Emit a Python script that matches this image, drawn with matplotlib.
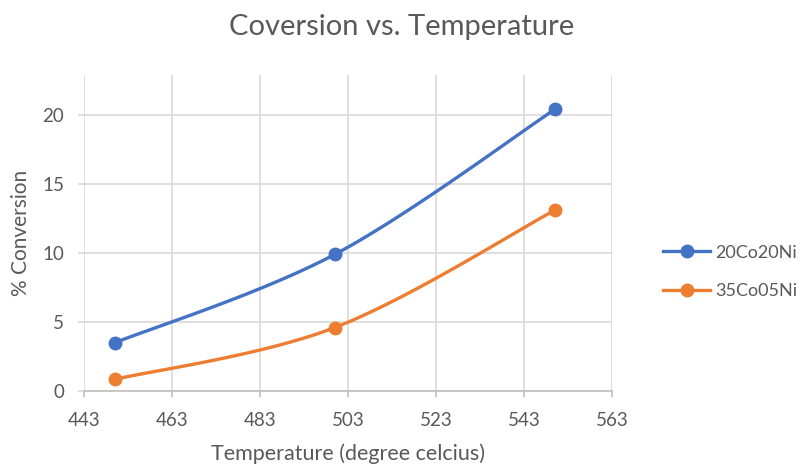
import matplotlib.pyplot as plt
import numpy as np

plt.rcParams['font.family'] = ['Lato', 'DejaVu Sans']

temperature = [450, 500, 550]
conv_20co20ni = [3.5, 9.9, 20.4]
conv_35co05ni = [0.85, 4.6, 13.1]
x_ticks = [443, 463, 483, 503, 523, 543, 563]
y_ticks = [0, 5, 10, 15, 20]


def smooth(xs, ys, steps=40):
    # cardinal bezier through the points, like a spreadsheet "smoothed line"
    xs = np.asarray(xs, float)
    ys = np.asarray(ys, float)
    px, py = [xs[0]], [ys[0]]
    n = len(xs)
    t = np.linspace(0, 1, steps)[1:]
    for i in range(n - 1):
        i0 = max(i - 1, 0)
        i3 = min(i + 2, n - 1)
        c1x = xs[i] + (xs[i + 1] - xs[i0]) / 6
        c1y = ys[i] + (ys[i + 1] - ys[i0]) / 6
        c2x = xs[i + 1] - (xs[i3] - xs[i]) / 6
        c2y = ys[i + 1] - (ys[i3] - ys[i]) / 6
        bx = ((1 - t) ** 3 * xs[i] + 3 * (1 - t) ** 2 * t * c1x
              + 3 * (1 - t) * t ** 2 * c2x + t ** 3 * xs[i + 1])
        by = ((1 - t) ** 3 * ys[i] + 3 * (1 - t) ** 2 * t * c1y
              + 3 * (1 - t) * t ** 2 * c2y + t ** 3 * ys[i + 1])
        px.extend(bx)
        py.extend(by)
    return px, py


text_col = '#595959'
grid_col = '#D9D9D9'

fig = plt.figure(figsize=(8.03, 4.65), dpi=100)
ax = fig.add_axes([0.1046, 0.159, 0.6576, 0.680])

series = [
    ('20Co20Ni', conv_20co20ni, '#4472C4'),
    ('35Co05Ni', conv_35co05ni, '#ED7D31'),
]
for name, vals, col in series:
    sx, sy = smooth(temperature, vals)
    ax.plot(sx, sy, '-', color=col, lw=2.4, solid_capstyle='round', zorder=3)
    ax.plot(temperature, vals, 'o', color=col, ms=9, zorder=4)
    ax.plot([], [], '-o', color=col, lw=2.4, ms=9, label=name)

ax.set_xlim(443, 563)
ax.set_ylim(0, 22.9)
ax.set_xticks(x_ticks)
ax.set_yticks(y_ticks)
ax.grid(True, color=grid_col, lw=1.2)
ax.set_axisbelow(True)
for s in ['top', 'right', 'left']:
    ax.spines[s].set_visible(False)
ax.spines['bottom'].set_color('#BFBFBF')
ax.spines['bottom'].set_linewidth(1.2)
ax.tick_params(axis='x', colors=text_col, labelsize=13.5, length=4.3,
               width=1.2, color='#BFBFBF', pad=10.5)
ax.tick_params(axis='y', colors=text_col, labelsize=13.5, length=4.3,
               width=1.2, color=grid_col, pad=10)

ax.set_xlabel('Temperature (degree celcius)', fontsize=15.5, color=text_col,
              labelpad=11)
ax.set_ylabel('% Conversion', fontsize=15, color=text_col, labelpad=8)
fig.text(0.5, 0.942, 'Coversion vs. Temperature', ha='center', va='center',
         fontsize=21, color=text_col)

fig.legend(loc='center left', bbox_to_anchor=(0.826, 0.415), frameon=False,
           fontsize=13, labelcolor=text_col, handlelength=2.6,
           handletextpad=0.3, labelspacing=1.25, borderpad=0,
           borderaxespad=0)

fig.savefig('out.png', dpi=100)
